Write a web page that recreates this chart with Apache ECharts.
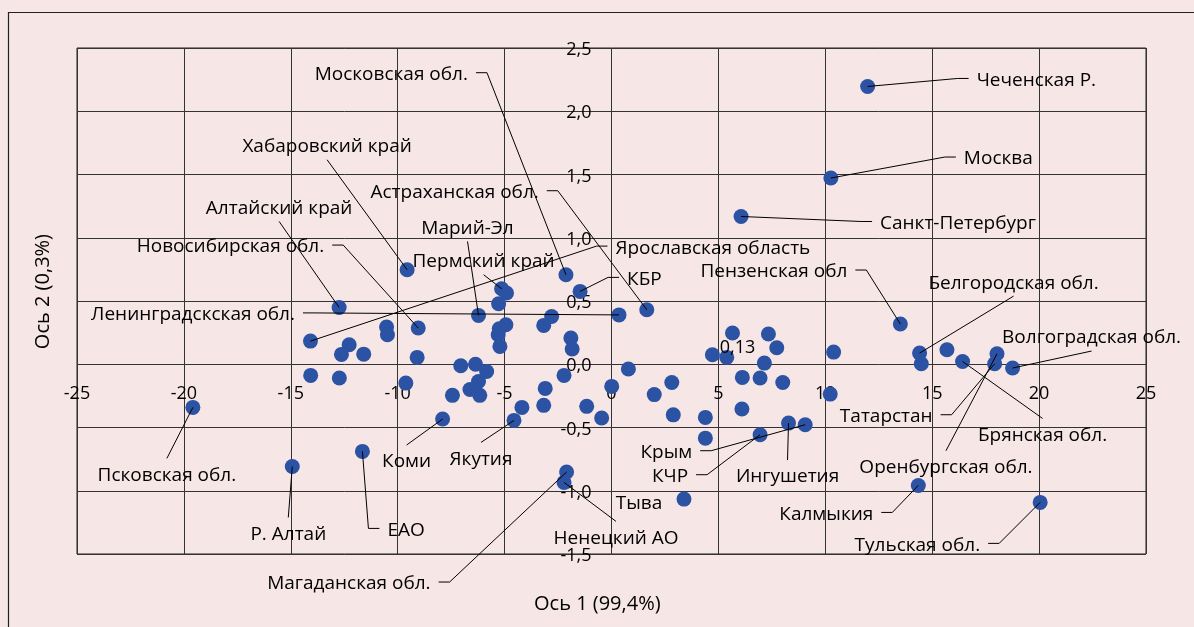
<!DOCTYPE html>
<html>
<head>
<meta charset="utf-8">
<script src="https://cdn.jsdelivr.net/npm/echarts@6/dist/echarts.min.js"></script>
<style>
html,body{margin:0;padding:0;background:#F6E6E6;}
#chart{width:1194px;height:627px;}
</style>
</head>
<body>
<div id="chart"></div>
<script>
// ---- DATA ----
const xTicks = [-25, -20, -15, -10, -5, 0, 5, 10, 15, 20, 25];
const yTicks = [-1.5, -1.0, -0.5, 0.0, 0.5, 1.0, 1.5, 2.0, 2.5];

const regionNames = [
  'Чеченская Р.', 'Москва', 'Санкт-Петербург', 'Пензенская обл', 'Белгородская обл.',
  'Волгоградская обл.', 'Брянская обл.', 'Татарстан', 'Оренбургская обл.', 'Калмыкия',
  'Тульская обл.', 'Ингушетия', 'КЧР', 'Крым', 'Тыва',
  'Ненецкий АО', 'Магаданская обл.', 'Якутия', 'Коми', 'ЕАО',
  'Р. Алтай', 'Псковская обл.', 'Ярославская область', 'Ленинградскская обл.', 'Новосибирская обл.',
  'Алтайский край', 'Хабаровский край', 'Московская обл.', 'Астраханская обл.', 'Марий-Эл',
  'Пермский край', 'КБР'
];
const regionX = [
  11.98, 10.26, 6.06, 13.51, 14.41,
  18.76, 16.42, 17.92, 18.03, 14.35,
  20.05, 8.28, 6.95, 9.06, 3.39,
  -2.22, -2.10, -4.56, -7.90, -11.65,
  -14.93, -19.58, -14.08, 0.35, -9.04,
  -12.74, -9.56, -2.13, 1.65, -6.22,
  -5.14, -1.47
];
const regionY = [
  2.196, 1.472, 1.168, 0.318, 0.088,
  -0.030, 0.022, 0.004, 0.083, -0.958,
  -1.092, -0.465, -0.557, -0.478, -1.066,
  -0.934, -0.852, -0.444, -0.433, -0.689,
  -0.808, -0.341, 0.183, 0.390, 0.286,
  0.449, 0.747, 0.708, 0.431, 0.386,
  0.597, 0.576
];

// unlabeled points
const otherX = [
  -10.52, -10.48, -12.27, -12.63, -11.59, -9.09, -14.07, -12.73, -9.62, -7.05,
  -6.36, -6.22, -6.62, -6.16, -7.44, -5.84,
  -4.91, -5.28, -2.80, -3.17, -4.94, -5.25, -5.30, -5.22, -1.90, -1.84,
  -2.22, -3.10, -3.17, -4.19, -1.16, -0.46, 0.01, 0.79, 2.00,
  2.82, 2.89, 4.39, 4.39, 4.72, 5.39, 5.66, 7.34, 7.15, 6.12,
  6.95, 8.01, 6.10, 10.39, 10.23, 15.69, 14.49
];
const otherY = [
  0.294, 0.233, 0.154, 0.078, 0.080, 0.054, -0.088, -0.109, -0.149, -0.012,
  0.000, -0.136, -0.200, -0.246, -0.246, -0.057,
  0.563, 0.478, 0.378, 0.307, 0.312, 0.281, 0.233, 0.141, 0.207, 0.120,
  -0.088, -0.191, -0.325, -0.341, -0.333, -0.425, -0.175, -0.038, -0.240,
  -0.144, -0.400, -0.420, -0.584, 0.075, 0.054, 0.247, 0.239, 0.009, -0.104,
  -0.109, -0.144, -0.354, 0.096, -0.236, 0.115, 0.004
];

// point shown with its Y value as data label
const valueLabelX = [7.73];
const valueLabelY = [0.13];

const axisTitleX = 'Ось 1 (99,4%)';
const axisTitleY = 'Ось 2 (0,3%)';

// ---- LABEL LAYOUT (pixel offsets of leader-line end from the point) ----
const labelLayout = {
  'Чеченская Р.': ['R', 90, -8],
  'Москва': ['R', 114, -21],
  'Санкт-Петербург': ['R', 120, 5],
  'Пензенская обл': ['L', -34, -54],
  'Белгородская обл.': ['T', 94, -57],
  'Волгоградская обл.': ['T', 79, -17],
  'Брянская обл.': ['B', 80, 57],
  'Татарстан': ['L', -43, 51],
  'Оренбургская обл.': ['B', -51, 97],
  'Калмыкия': ['L', -26, 27],
  'Тульская обл.': ['L', -41, 41],
  'Ингушетия': ['B', -1, 37],
  'КЧР': ['L', -53, 40],
  'Крым': ['L', -94, 26],
  'Тыва': ['N', -45, 2],
  'Ненецкий АО': ['B', 52, 39],
  'Магаданская обл.': ['L', -117, 110],
  'Якутия': ['B', -33, 22],
  'Коми': ['B', -36, 26],
  'ЕАО': ['R', 6, 77],
  'Р. Алтай': ['B', -4, 51],
  'Псковская обл.': ['B', -26, 51],
  'Ярославская область': ['R', 286, -95],
  'Ленинградскская обл.': ['L', -305, -2],
  'Новосибирская обл.': ['L', -75, -83],
  'Алтайский край': ['T', -60, -86],
  'Хабаровский край': ['T', -80, -110],
  'Московская обл.': ['L', -79, -202],
  'Астраханская обл.': ['L', -89, -119],
  'Марий-Эл': ['T', -11, -74],
  'Пермский край': ['T', -18, -14],
  'КБР': ['R', 28, -14]
};

const FONT = '19px "Open Sans"';
const TICK_FONT = '18px "Open Sans"';
const HOOK = 11, GAP = 8, VOFF = 15, TEXT_SHIFT = 2;
const fmtComma1 = v => v.toFixed(1).replace('.', ',');

const chart = echarts.init(document.getElementById('chart'));

const allPoints = regionX.map((x, i) => [x, regionY[i]])
  .concat(otherX.map((x, i) => [x, otherY[i]]));

function renderLabel(params, api) {
  const i = params.dataIndex;
  const name = regionNames[i];
  const p = api.coord([api.value(0), api.value(1)]);
  const L = labelLayout[name];
  const mode = L[0];
  const e = [p[0] + L[1], p[1] + L[2]];
  const children = [];
  let tx, ty, align;
  if (mode === 'L' || mode === 'R') {
    const s = mode === 'L' ? -1 : 1;
    const h = [e[0] + s * HOOK, e[1]];
    children.push({type: 'polyline', shape: {points: [p, e, h]},
      style: {stroke: '#000', lineWidth: 1, fill: null}});
    tx = h[0] + s * GAP; ty = e[1]; align = mode === 'L' ? 'right' : 'left';
  } else if (mode === 'T' || mode === 'B') {
    children.push({type: 'line', shape: {x1: p[0], y1: p[1], x2: e[0], y2: e[1]},
      style: {stroke: '#000', lineWidth: 1}});
    tx = e[0]; ty = e[1] + (mode === 'T' ? -VOFF : VOFF); align = 'center';
  } else {
    tx = e[0]; ty = e[1]; align = 'center';
  }
  children.push({type: 'text', style: {text: name, x: tx, y: ty + TEXT_SHIFT, align: align, textAlign: align,
    verticalAlign: 'middle', textVerticalAlign: 'middle', font: FONT, fill: '#000'}});
  return {type: 'group', children: children};
}

// axis tick labels placed at the crossing axes (x labels along y=0, y labels along x=0)
function renderXTick(params, api) {
  const v = api.value(0);
  const p = api.coord([v, 0]);
  return {type: 'text', style: {text: String(v), x: p[0], y: p[1] + 30, align: 'center', textAlign: 'center',
    verticalAlign: 'middle', textVerticalAlign: 'middle', font: TICK_FONT, fill: '#000'}};
}
function renderYTick(params, api) {
  const v = api.value(1);
  const p = api.coord([0, v]);
  return {type: 'text', style: {text: fmtComma1(v), x: p[0] - 20, y: p[1] + 2, align: 'right', textAlign: 'right',
    verticalAlign: 'middle', textVerticalAlign: 'middle', font: TICK_FONT, fill: '#000'}};
}

const option = {
  backgroundColor: '#F6E6E6',
  animation: false,
  textStyle: {fontFamily: 'Open Sans'},
  grid: {left: 77, right: 48, top: 48, bottom: 73, show: true, borderColor: '#222', borderWidth: 1, backgroundColor: 'transparent'},
  xAxis: {
    type: 'value',
    min: xTicks[0], max: xTicks[xTicks.length - 1], interval: xTicks[1] - xTicks[0],
    axisLine: {show: false},
    axisTick: {show: false},
    axisLabel: {show: false},
    splitLine: {show: true, lineStyle: {color: '#333', width: 1}}
  },
  yAxis: {
    type: 'value',
    min: yTicks[0], max: yTicks[yTicks.length - 1], interval: yTicks[1] - yTicks[0],
    axisLine: {show: false},
    axisTick: {show: false},
    axisLabel: {show: false},
    splitLine: {show: true, lineStyle: {color: '#333', width: 1}}
  },
  graphic: [
    {type: 'rect', left: 6, top: 10, z: -1, silent: true,
      shape: {x: 0, y: 0, width: 1300, height: 800},
      style: {fill: null, stroke: '#222', lineWidth: 1.2}},
    {type: 'text', left: 534, top: 594,
      style: {text: axisTitleX, font: '20px "Open Sans"', fill: '#000'}},
    {type: 'text', left: 33, top: 234, rotation: Math.PI / 2,
      style: {text: axisTitleY, font: '20px "Open Sans"', fill: '#000'}}
  ],
  series: [
    {
      type: 'custom', z: 2, clip: false, silent: true,
      renderItem: renderXTick,
      data: xTicks.map(t => [t, 0])
    },
    {
      type: 'custom', z: 2, clip: false, silent: true,
      renderItem: renderYTick,
      data: yTicks.map(t => [0, t])
    },
    {
      type: 'scatter', symbol: 'circle', symbolSize: 15, z: 3,
      itemStyle: {color: '#2C52A3', opacity: 1},
      data: allPoints
    },
    {
      type: 'scatter', symbol: 'circle', symbolSize: 15, z: 3,
      itemStyle: {color: '#2C52A3', opacity: 1},
      label: {show: true, position: 'left', distance: 14, color: '#000', fontSize: 18, fontFamily: 'Open Sans',
        formatter: p => p.value[1].toFixed(2).replace('.', ',')},
      data: valueLabelX.map((x, i) => [x, valueLabelY[i]])
    },
    {
      type: 'custom', z: 5, clip: false,
      renderItem: renderLabel,
      data: regionX.map((x, i) => [x, regionY[i]])
    }
  ]
};
chart.setOption(option);
</script>
</body>
</html>
